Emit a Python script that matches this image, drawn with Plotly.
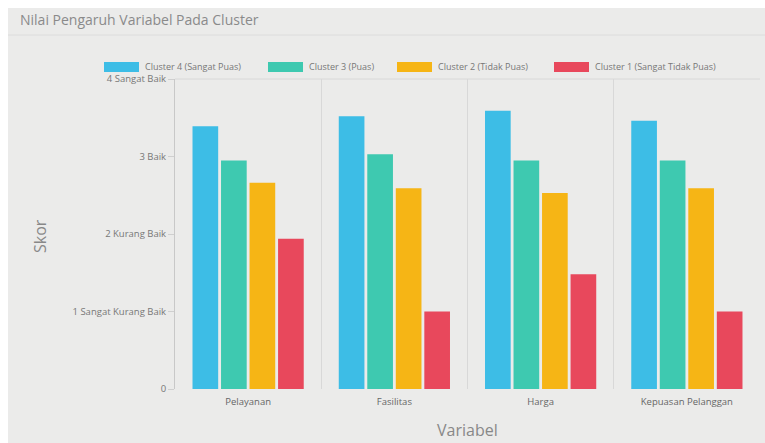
import plotly.graph_objects as go

categories = ["Pelayanan", "Fasilitas", "Harga", "Kepuasan Pelanggan"]
series_names = ["Cluster 4 (Sangat Puas)", "Cluster 3 (Puas)", "Cluster 2 (Tidak Puas)", "Cluster 1 (Sangat Tidak Puas)"]
cluster4 = [3.39, 3.52, 3.59, 3.46]
cluster3 = [2.95, 3.03, 2.95, 2.95]
cluster2 = [2.66, 2.59, 2.53, 2.59]
cluster1 = [1.94, 1.00, 1.48, 1.00]
colors = ["#3dbde6", "#3ec9b0", "#f6b515", "#e8485c"]
tick_vals = [0, 1, 2, 3, 4]
tick_text = ["0", "1 Sangat Kurang Baik", "2 Kurang Baik", "3 Baik", "4 Sangat Baik"]
legend_x_px = [104, 268, 397, 554]

fig = go.Figure()
for name, vals, col in zip(series_names, [cluster4, cluster3, cluster2, cluster1], colors):
    fig.add_trace(go.Bar(x=categories, y=vals, name=name, marker=dict(color=col, line=dict(width=0))))

L, R, T, B = 175, 5, 79, 54
W, H = 765, 443
pw, ph = W - L - R, H - T - B

def px(x):
    return (x - L) / pw

def py(y):
    return (H - B - y) / ph

fig.update_layout(
    width=W, height=H,
    margin=dict(l=L, r=R, t=T, b=B),
    paper_bgcolor="#ebebea",
    plot_bgcolor="#ebebea",
    barmode="group",
    bargap=0.22,
    bargroupgap=0.1,
    font=dict(family="Open Sans", color="#777"),
    showlegend=False,
    xaxis=dict(tickson="boundaries", showgrid=True, gridcolor="#d8d8d8", gridwidth=1,
               ticks="", tickfont=dict(size=9.5, color="#666"), ticklabelstandoff=5,
               title=None, showline=False, zeroline=False),
    yaxis=dict(range=[0, 4], tickvals=tick_vals, ticktext=tick_text, showgrid=False,
               ticks="outside", ticklen=6, tickcolor="#cfcfcf",
               tickfont=dict(size=9.5, color="#777"),
               title=None,
               showline=True, linecolor="#c8c8c8", linewidth=1, zeroline=False),
)

# white outer frame (top/left)
fig.add_shape(type="rect", xref="paper", yref="paper", x0=px(0), x1=px(8), y0=py(H), y1=py(0),
              fillcolor="white", line=dict(width=0), layer="below")
fig.add_shape(type="rect", xref="paper", yref="paper", x0=px(0), x1=px(W), y0=py(8), y1=py(0),
              fillcolor="white", line=dict(width=0), layer="below")
# title underline
fig.add_shape(type="line", xref="paper", yref="paper", x0=px(8), x1=px(W),
              y0=py(35), y1=py(35), line=dict(color="#dcdcdc", width=1))
# top border line of plot
fig.add_shape(type="line", xref="paper", yref="paper", x0=0, x1=1, y0=1, y1=1, line=dict(color="#d8d8d8", width=1))

fig.add_annotation(text="Nilai Pengaruh Variabel Pada Cluster", xref="paper", yref="paper",
                   x=px(18), y=py(20), xanchor="left", yanchor="middle",
                   showarrow=False, font=dict(size=14, color="#8a8a8a"))
fig.add_annotation(text="Skor", xref="paper", yref="paper", x=px(40), y=py(236), textangle=-90,
                   xanchor="center", yanchor="middle", showarrow=False, font=dict(size=16, color="#888"))
fig.add_annotation(text="Variabel", xref="paper", yref="paper", x=px(467), y=py(430),
                   xanchor="center", yanchor="middle", showarrow=False, font=dict(size=16, color="#888"))

# custom legend with wide swatches
for name, col, lx in zip(series_names, colors, legend_x_px):
    fig.add_shape(type="rect", xref="paper", yref="paper", x0=px(lx), x1=px(lx + 35), y0=py(72), y1=py(62),
                  fillcolor=col, line=dict(width=0))
    fig.add_annotation(text=name, xref="paper", yref="paper", x=px(lx + 39), y=py(67),
                       xanchor="left", yanchor="middle", showarrow=False, font=dict(size=9, color="#777"))

fig.write_html("out.html")
